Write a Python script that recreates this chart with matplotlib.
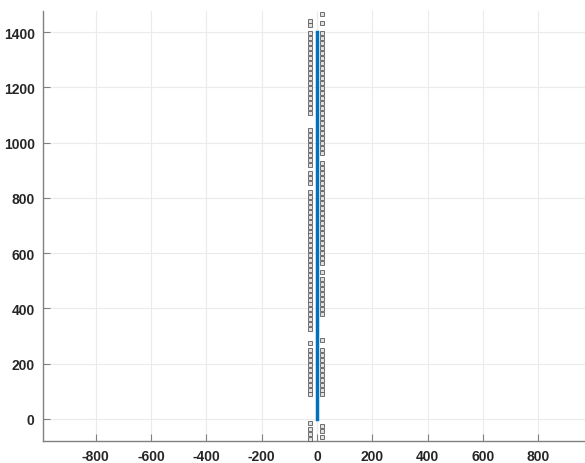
import matplotlib
matplotlib.use('Agg')
import matplotlib.pyplot as plt

plt.rcParams['font.family'] = ['Liberation Sans', 'DejaVu Sans']
plt.rcParams['axes.unicode_minus'] = False

# 中轴线（x=0 的竖线）
line_x = [0, 0]
line_y = [0, 1400]

# 左侧一列小标记的 y 值
left_x = -24
left_y = [1440, 1425,
          1395, 1377, 1359, 1341, 1323, 1305, 1287, 1269, 1251, 1233, 1215, 1197,
          1179, 1161, 1143, 1125, 1107,
          1045, 1027, 1009, 991, 973, 955, 937, 919,
          890, 872, 855,
          822, 804, 786, 768, 750, 732, 714, 696, 678, 665,
          648, 630, 612, 594, 576, 558, 540, 522, 504, 486, 468, 450, 432, 414,
          396, 378, 360, 342, 324,
          275,
          250, 232, 214, 196, 178, 160, 142, 124, 106, 90,
          -15, -35, -55, -72]

# 右侧一列小标记的 y 值
right_x = 18
right_y = [1465, 1432,
           1395, 1377, 1359, 1341, 1323, 1305, 1287, 1269, 1251, 1233, 1215, 1197,
           1179, 1161, 1143, 1125, 1107, 1089, 1071, 1053, 1035, 1017, 999, 981, 963,
           925, 907, 889, 871, 853, 835, 817, 799, 781, 763, 745, 727, 709, 691,
           673, 655, 637, 619, 601, 583, 565,
           530,
           505, 487, 469, 451, 433, 415, 397, 379,
           284,
           250, 232, 214, 196, 178, 160, 142, 124, 106, 90,
           -25, -45, -65]

xticks = [-800, -600, -400, -200, 0, 200, 400, 600, 800]
yticks = [0, 200, 400, 600, 800, 1000, 1200, 1400]

fig = plt.figure(figsize=(5.85, 4.64), dpi=100)
ax = fig.add_axes([0.0735, 0.0474, 0.9265, 0.9267])

ax.plot(line_x, line_y, color='#0072BD', lw=2.5, zorder=3)
ax.plot([left_x] * len(left_y), left_y, ls='none', marker='s', ms=3.0,
        mfc='#e0e0e0', mec='#5a5a5a', mew=0.6, zorder=4)
ax.plot([right_x] * len(right_y), right_y, ls='none', marker='s', ms=3.0,
        mfc='#e0e0e0', mec='#5a5a5a', mew=0.6, zorder=4)

ax.set_xlim(-991, 969)
ax.set_ylim(-80, 1476)
ax.set_xticks(xticks)
ax.set_yticks(yticks)
ax.grid(True, color='#ebebeb', lw=0.8)
ax.set_axisbelow(True)

for s in ['top', 'right']:
    ax.spines[s].set_visible(False)
for s in ['left', 'bottom']:
    ax.spines[s].set_color('#808080')
    ax.spines[s].set_linewidth(1.0)

ax.tick_params(direction='in', length=5, color='#808080', labelsize=10,
               labelcolor='#262626', pad=6)
for lab in ax.get_xticklabels() + ax.get_yticklabels():
    lab.set_fontweight('bold')

fig.savefig('out.png', dpi=100)
